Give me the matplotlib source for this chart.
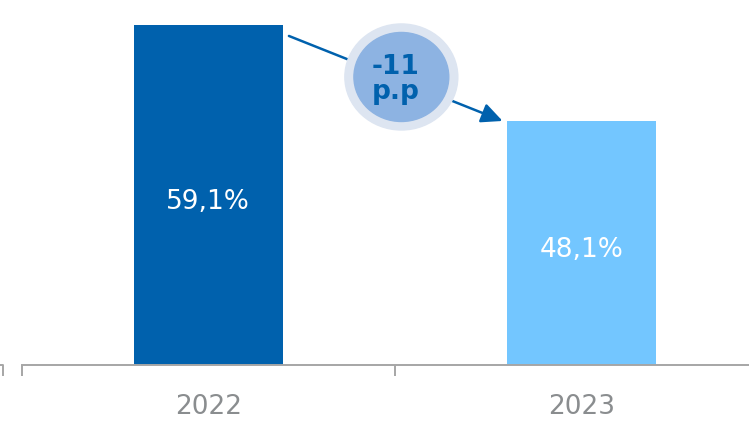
import matplotlib
matplotlib.use("Agg")
import matplotlib.pyplot as plt
from matplotlib.patches import Ellipse
from matplotlib.lines import Line2D

years = ["2022", "2023"]
values = [59.1, 48.1]
labels = ["59,1%", "48,1%"]
change_text = "-11\np.p"

bar_colors = ["#0061AD", "#73C6FF"]
axis_gray = "#A6A6A6"
label_gray = "#8A8D8F"

plt.rcParams['font.family'] = ['DejaVu Sans']

W, H = 749, 421
ymin, ymax = 20.14, 61.96
fig = plt.figure(figsize=(W / 100, H / 100), dpi=100)
# axes reaches past the right edge, like the cropped original
ax = fig.add_axes([21.5 / W, 56 / H, 747 / W, 365 / H])

x = list(range(len(years)))
ax.bar(x, values, width=0.40, color=bar_colors, zorder=2)
ax.set_xlim(-0.5, 1.5)
ax.set_ylim(ymin, ymax)

for s in ["top", "right", "left"]:
    ax.spines[s].set_visible(False)
ax.spines["bottom"].set_color(axis_gray)
ax.spines["bottom"].set_linewidth(1.4)
ax.set_yticks([])

ax.set_xticks([])
ax.set_xticks([-0.5, 0.5, 1.5], minor=True)
ax.tick_params(axis="x", which="minor", length=8, width=1.4, color=axis_gray,
               labelbottom=False)

for xi, yr in zip(x, years):
    ax.text(xi, -0.1355, yr, transform=ax.get_xaxis_transform(), ha="center",
            va="baseline", fontsize=19, color=label_gray)

for xi, v, lab in zip(x, values, labels):
    ax.text(xi, (v + ymin) / 2 - 1.55, lab, ha="center", va="baseline",
            fontsize=19, color="white", zorder=3)

# arrow from 2022 to 2023
ax.annotate("", xy=(0.788, values[1]), xytext=(0.216, 57.84),
            arrowprops=dict(arrowstyle="-|>,head_length=0.85,head_width=0.4",
                            color="#0061AD", lw=1.8, shrinkA=0, shrinkB=0,
                            mutation_scale=15),
            zorder=3)

ax.add_patch(Ellipse((0.517, 53.14), 0.3025, 12.15, color="#DDE5F1", zorder=4))
ax.add_patch(Ellipse((0.517, 53.14), 0.254, 10.2, color="#8DB3E2", zorder=5))
ax.text(0.502, 52.9, change_text, ha="center", va="center", fontsize=19,
        fontweight="bold", color="#0061AD", linespacing=0.95,
        multialignment="center", zorder=6)

# leftover axis end of the neighbouring chart
fig.add_artist(Line2D([0, 3.5 / W, 3.5 / W], [56 / H, 56 / H, 46 / H],
                      color=axis_gray, lw=1.4))

fig.savefig("out.png", dpi=100)
